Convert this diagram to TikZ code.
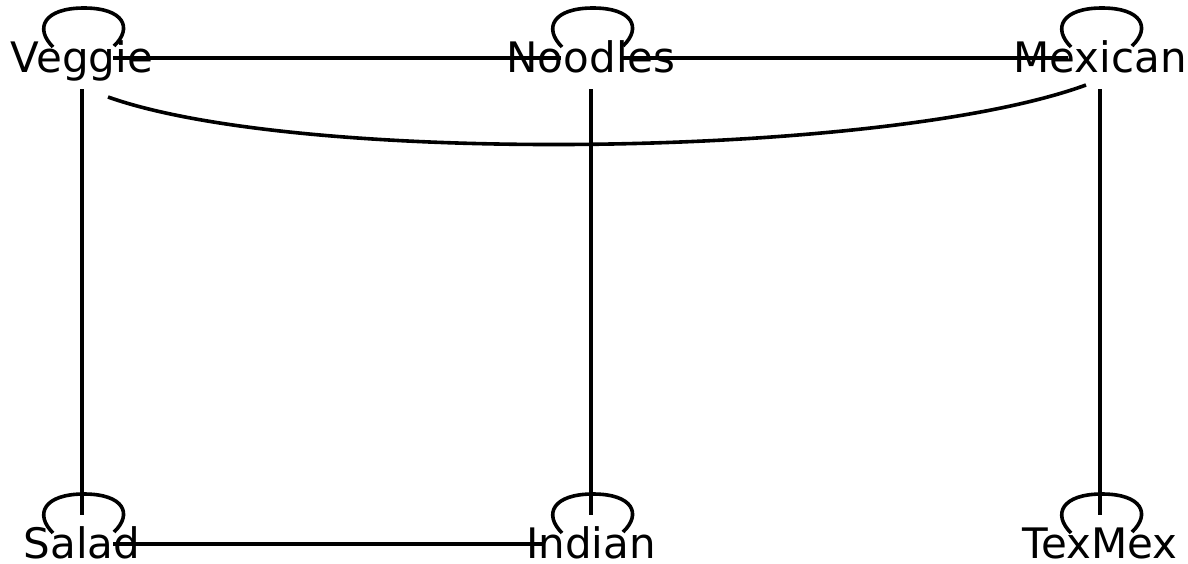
\documentclass[tikz,border=0pt]{standalone}
\usepackage{fontspec}
\setmainfont{DejaVu Sans}
\tikzset{
  edge/.style={draw=black, line width=3.6pt},
  lbl/.style={anchor=base, inner sep=0pt, font=\fontsize{42}{50}\selectfont, text=black}
}
\newcommand\selfloop[1]{%
  \draw[edge] ([shift={(-29,-11)}]#1) .. controls ([shift={(-48,-30)}]#1) and ([shift={(-38,-50)}]#1) .. ([shift={(2,-50)}]#1)
    .. controls ([shift={(42,-50)}]#1) and ([shift={(51,-30)}]#1) .. ([shift={(32,-12)}]#1);}
\begin{document}
\begin{tikzpicture}[x=1pt, y=-1pt]
\useasboundingbox (0,0) rectangle (1188,563);
\coordinate (V) at (82,58);
\coordinate (N) at (591,58);
\coordinate (M) at (1100,58);
\coordinate (S) at (82,544);
\coordinate (I) at (591,544);
\coordinate (T) at (1100,544);
% self loops
\selfloop{V}
\selfloop{N}
\selfloop{M}
\selfloop{S}
\selfloop{I}
\selfloop{T}
% straight edges
\draw[edge, shorten <=31pt, shorten >=30pt] (V) -- (N);
\draw[edge, shorten <=31pt, shorten >=32pt] (N) -- (M);
\draw[edge, shorten <=31pt, shorten >=29pt] (V) -- (S);
\draw[edge, shorten <=31pt, shorten >=29pt] (N) -- (I);
\draw[edge, shorten <=31pt, shorten >=29pt] (M) -- (T);
\draw[edge, shorten <=31pt, shorten >=48pt] (S) -- (I);
% curved edge
\draw[edge] ([shift={(26,39)}]V) .. controls ([shift={(220,108)}]V) and ([shift={(-214,100)}]M) .. ([shift={(-14,27)}]M);
% labels
\node[lbl] (Vt) at ([yshift=-14pt]V) {Veggie};
\node[lbl] (Nt) at ([yshift=-14pt]N) {Noodles};
\node[lbl] (Mt) at ([yshift=-14pt]M) {Mexican};
\node[lbl] (St) at ([yshift=-14pt]S) {Salad};
\node[lbl] (It) at ([yshift=-14pt]I) {Indian};
\node[lbl] (Tt) at ([yshift=-14pt]T) {TexMex};
\end{tikzpicture}
\end{document}
